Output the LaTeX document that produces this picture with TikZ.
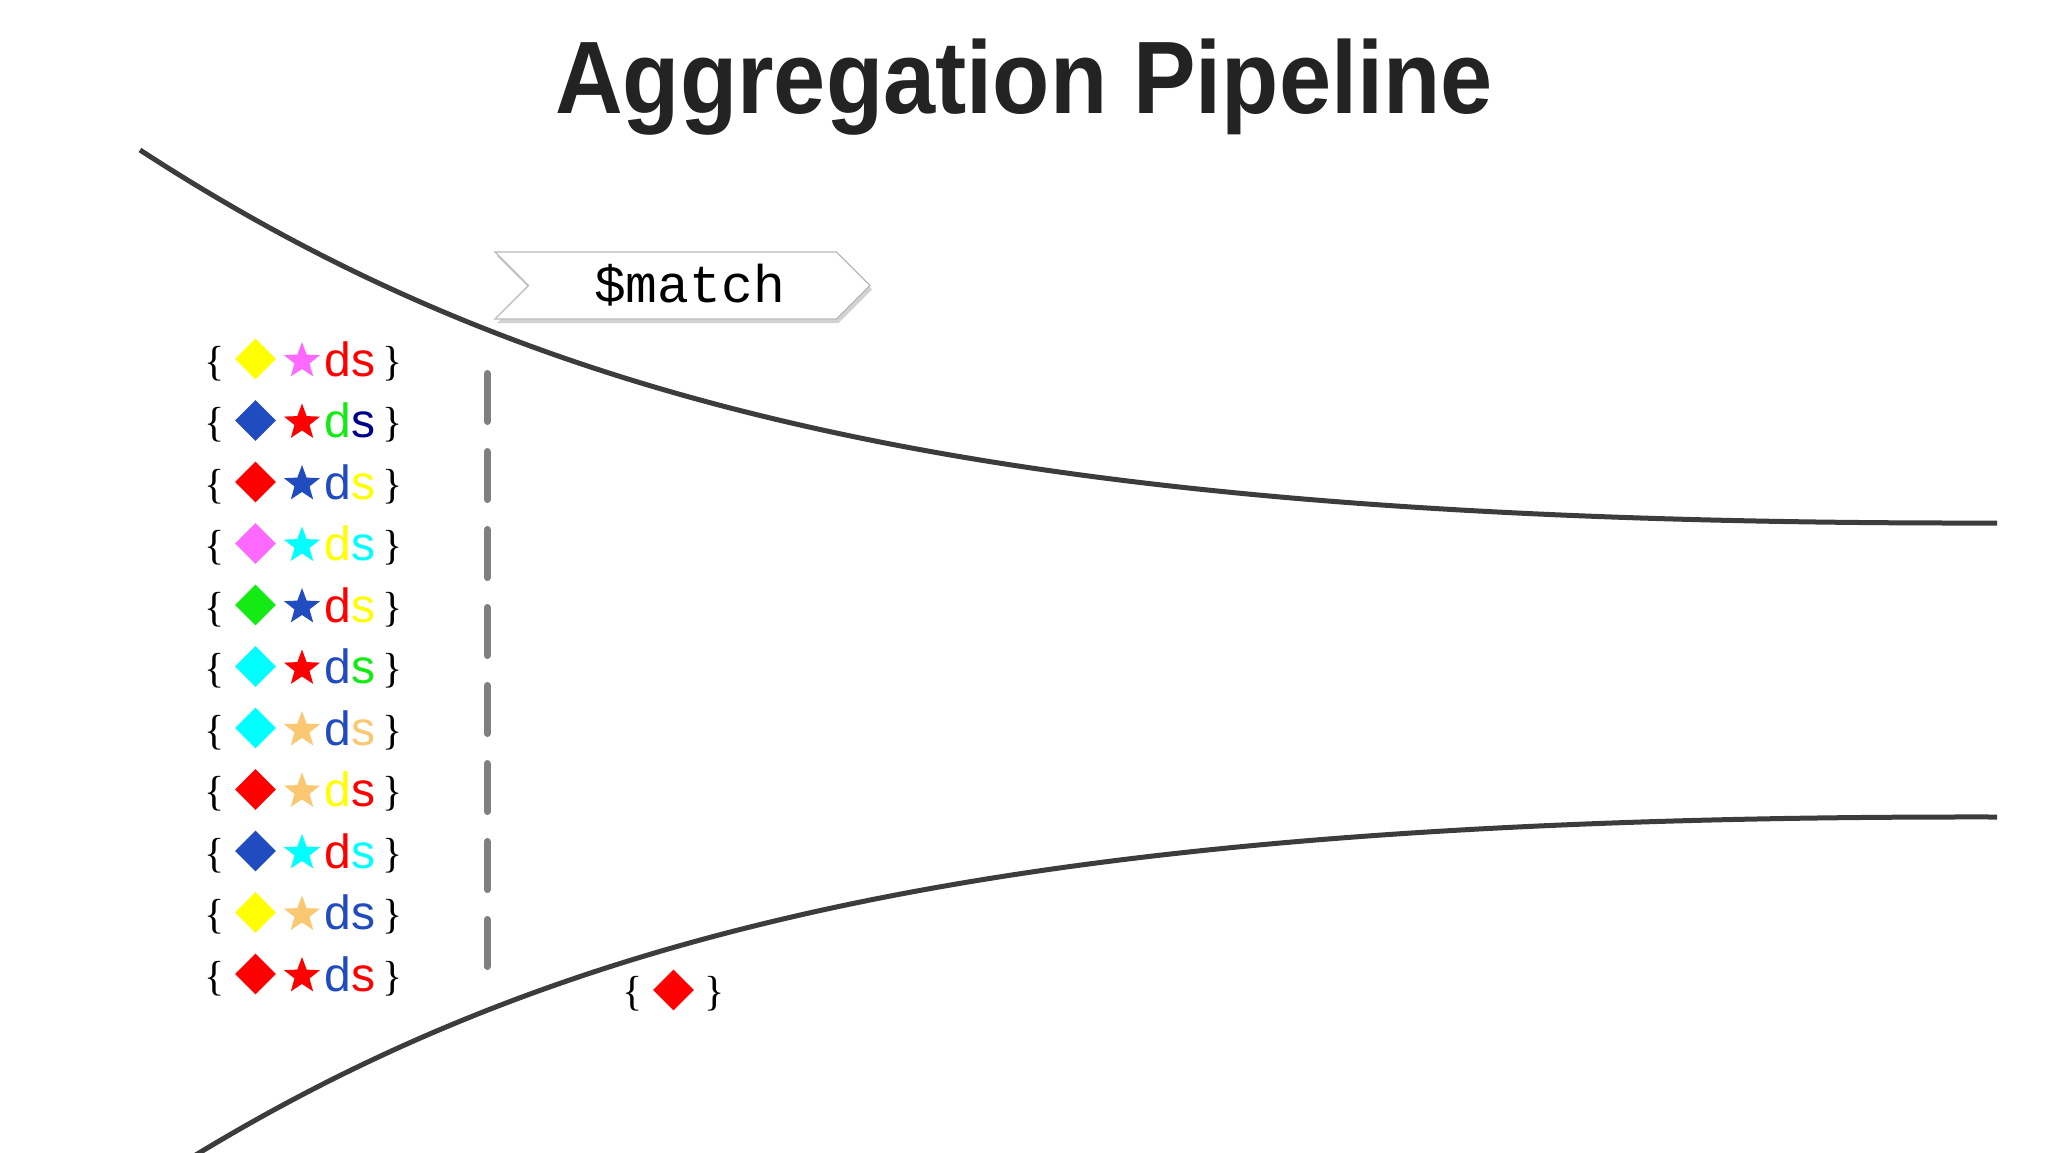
\documentclass[tikz,border=0pt]{standalone}
\usepackage{graphicx}
\usepackage{fontspec}
\setmainfont{Liberation Sans}
\newfontfamily\bracefont{Liberation Serif}
\newfontfamily\codefont{Liberation Mono}
\usetikzlibrary{shapes.geometric,shapes.symbols,shadows}

\definecolor{ctitle}{RGB}{35,35,35}
\definecolor{cfunnel}{RGB}{60,60,60}
\definecolor{cgate}{RGB}{128,128,128}
\definecolor{cyellow}{RGB}{255,255,0}
\definecolor{cpink}{RGB}{255,105,255}
\definecolor{cred}{RGB}{255,0,0}
\definecolor{cblue}{RGB}{33,76,191}
\definecolor{cgreen}{RGB}{20,235,20}
\definecolor{cnavy}{RGB}{0,0,140}
\definecolor{ccyan}{RGB}{0,255,255}
\definecolor{corange}{RGB}{250,200,115}

\tikzset{
  funnel/.style={line width=5pt, draw=cfunnel},
  gate/.style={line width=7pt, draw=cgate, line cap=round, dash pattern=on 48pt off 30pt},
  docbrace/.style={inner sep=0pt, anchor=base, font=\bracefont\fontsize{42}{42}\selectfont},
  doctext/.style={inner sep=0pt, anchor=base, font=\fontsize{48}{48}\selectfont},
  gem/.style={diamond, inner sep=0pt, minimum size=41pt},
  starmark/.style={star, star points=5, star point ratio=2.4, inner sep=0pt, minimum size=38pt},
  stagetag/.style={signal, signal from=west, signal to=east, draw=gray!55, fill=white,
    line width=1.2pt, minimum width=375pt, minimum height=67pt, inner sep=0pt,
    font=\codefont\fontsize{53}{53}\selectfont,
    drop shadow={opacity=0.35, shadow xshift=2pt, shadow yshift=-4pt}}
}

\begin{document}
\begin{tikzpicture}[x=1pt, y=-1pt]
  \useasboundingbox (0,0) rectangle (2048,1152);
  \clip (0,0) rectangle (2048,1152);
  \fill[white] (0,0) rectangle (2048,1152);

  \node[font=\bfseries\fontsize{103}{103}\selectfont, text=ctitle, anchor=base, inner sep=0pt] (title) at (1024,113) {\scalebox{0.91}[1]{Aggregation Pipeline}};

  % funnel walls
  \draw[funnel] (140,150) .. controls (540,410) and (1000,525) .. (1997,523);
  \draw[funnel] (140,1190) .. controls (540,930) and (1000,815) .. (1997,817);

  % stage
  \node[stagetag] (match) at (682.5,285.5) {\hspace*{14pt}\$match};
  \coordinate (gatetop) at (487,373.5);
  \coordinate (gatebot) at (487,966.5);
  \draw[gate] (gatetop) -- (gatebot);

  % documents
  \foreach \dcol/\scol/\tcol/\ucol [count=\i] in {cyellow/cpink/cred/cred, cblue/cred/cgreen/cnavy,
      cred/cblue/cblue/cyellow, cpink/ccyan/cyellow/ccyan, cgreen/cblue/cred/cyellow,
      ccyan/cred/cblue/cgreen, ccyan/corange/cblue/corange, cred/corange/cyellow/cred,
      cblue/ccyan/cred/ccyan, cyellow/corange/cblue/cblue, cred/cred/cblue/cred} {
    \pgfmathsetmacro\ry{297.5+61.5*\i}
    \node[docbrace] (lb\i) at (215,\ry+16) {\{};
    \node[gem, fill=\dcol] (gem\i) at (255.5,\ry) {};
    \node[starmark, fill=\scol] (star\i) at (302,\ry+2) {};
    \node[doctext] (ds\i) at (350,\ry+17) {\textcolor{\tcol}{d}\textcolor{\ucol}{s}};
    \node[docbrace] (rb\i) at (393,\ry+16) {\}};
  }

  % matched document
  \node[docbrace] (lbout) at (633,1005) {\{};
  \node[gem, fill=cred] (gemout) at (673.5,990) {};
  \node[docbrace] (rbout) at (715,1005) {\}};
\end{tikzpicture}
\end{document}
